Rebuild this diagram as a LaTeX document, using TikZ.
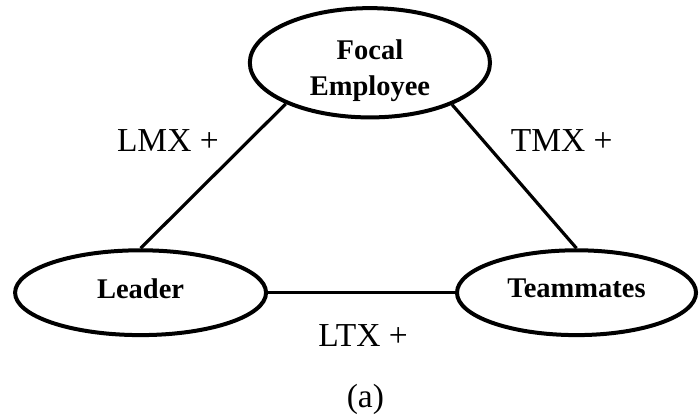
\documentclass[tikz,border=0pt]{standalone}
\usepackage{fontspec}
\setmainfont{Liberation Serif}
\usetikzlibrary{shapes,positioning}

\tikzset{
	actor/.style={ellipse,draw,line width=2pt,inner sep=0pt},
	actortext/.style={inner sep=0pt,align=center,
		font=\fontsize{14.25}{17.75}\selectfont\bfseries},
	tie/.style={line width=1.6pt},
	exlabel/.style={font=\fontsize{16.75}{19}\selectfont}
}

\begin{document}
\begin{tikzpicture}
	\useasboundingbox (0,0) rectangle (12.30,7.363);

	% the three parties
	\node[actor,minimum width=4.22cm,minimum height=1.92cm] (focal) at (6.50,6.26) {};
	\node[actor,minimum width=4.41cm,minimum height=1.49cm] (leader) at (2.47,2.22) {};
	\node[actor,minimum width=4.20cm,minimum height=1.49cm] (team) at (10.13,2.22) {};

	\node[actortext] (focaltext)  at ([yshift=-4pt]focal.center) {Focal\\Employee};
	\node[actortext] (leadertext) at ([yshift=2pt]leader.center) {Leader};
	\node[actortext] (teamtext)   at ([yshift=2pt]team.center)   {Teammates};

	% exchange relations
	\draw[tie] (leader.north) -- (focal.206);
	\draw[tie] (team.north)   -- (focal.333);
	\draw[tie] (leader) -- (team);

	\node[exlabel] (lmx) at (2.95,4.89) {LMX +};
	\node[exlabel] (tmx) at (9.87,4.89) {TMX +};
	\node[exlabel] (ltx) at (6.38,1.46) {LTX +};
	\node[exlabel] (cap) at (6.42,0.35) {(a)};
\end{tikzpicture}
\end{document}
